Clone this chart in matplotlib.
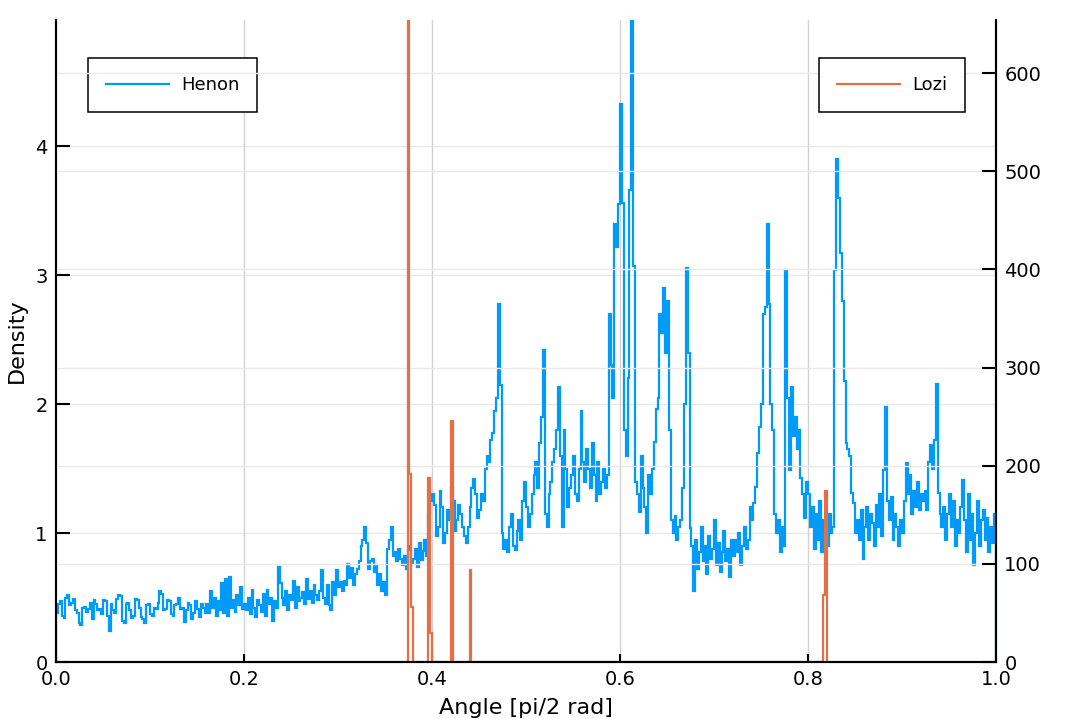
import matplotlib
matplotlib.use("Agg")
import matplotlib.pyplot as plt
import numpy as np

# Henon histogram: 500 bins over [0, 1], density (one row = 0.04)
henonDensity = [
    0.38, 0.45, 0.47, 0.36, 0.34, 0.50, 0.52, 0.44, 0.46, 0.49, 0.40, 0.38, 0.30, 0.29, 0.42, 0.43, 0.39, 0.41, 0.46, 0.33,
    0.48, 0.45, 0.40, 0.41, 0.37, 0.48, 0.47, 0.36, 0.24, 0.45, 0.40, 0.38, 0.49, 0.52, 0.51, 0.32, 0.30, 0.45, 0.46, 0.40,
    0.34, 0.36, 0.49, 0.48, 0.42, 0.35, 0.33, 0.30, 0.44, 0.45, 0.37, 0.36, 0.42, 0.41, 0.46, 0.55, 0.53, 0.40, 0.41, 0.48,
    0.47, 0.37, 0.36, 0.44, 0.45, 0.50, 0.41, 0.42, 0.31, 0.40, 0.46, 0.44, 0.33, 0.38, 0.47, 0.41, 0.35, 0.45, 0.42, 0.38,
    0.45, 0.38, 0.55, 0.42, 0.50, 0.36, 0.47, 0.40, 0.61, 0.38, 0.64, 0.36, 0.66, 0.42, 0.48, 0.39, 0.52, 0.44, 0.58, 0.41,
    0.45, 0.40, 0.50, 0.37, 0.56, 0.42, 0.35, 0.48, 0.44, 0.39, 0.53, 0.36, 0.56, 0.45, 0.50, 0.32, 0.47, 0.42, 0.74, 0.61,
    0.50, 0.44, 0.55, 0.40, 0.52, 0.48, 0.63, 0.42, 0.58, 0.47, 0.50, 0.54, 0.45, 0.64, 0.49, 0.55, 0.46, 0.60, 0.52, 0.48,
    0.55, 0.71, 0.50, 0.45, 0.60, 0.44, 0.40, 0.62, 0.52, 0.71, 0.58, 0.62, 0.55, 0.63, 0.60, 0.76, 0.65, 0.73, 0.60, 0.68,
    0.72, 0.78, 0.90, 0.95, 1.05, 0.92, 0.72, 0.78, 0.80, 0.70, 0.75, 0.60, 0.68, 0.55, 0.62, 0.52, 0.88, 0.95, 1.05, 0.82,
    0.85, 0.78, 0.88, 0.80, 0.75, 0.82, 0.72, 0.87, 0.90, 0.76, 0.80, 0.88, 0.74, 0.92, 0.79, 0.86, 0.95, 0.82, 1.15, 1.25,
    1.30, 1.22, 0.98, 1.05, 1.33, 1.20, 0.92, 1.00, 1.18, 1.10, 1.36, 1.25, 1.02, 1.10, 1.22, 1.15, 1.05, 0.98, 0.92, 1.05,
    1.20, 1.35, 1.42, 1.30, 1.12, 1.18, 1.30, 1.25, 1.50, 1.60, 1.55, 1.72, 1.78, 1.95, 2.05, 2.78, 2.15, 1.00, 0.88, 0.95,
    0.85, 1.05, 1.15, 0.90, 0.87, 1.02, 1.10, 0.95, 1.25, 1.40, 1.20, 1.05, 1.15, 1.30, 1.45, 1.55, 1.35, 1.70, 1.90, 2.42,
    1.15, 1.05, 1.30, 1.40, 1.55, 1.65, 1.80, 2.13, 1.60, 1.05, 1.80, 1.50, 1.20, 1.35, 1.45, 1.60, 1.30, 1.25, 1.50, 1.95,
    1.55, 1.40, 1.65, 1.50, 1.35, 1.70, 1.45, 1.25, 1.55, 1.30, 1.40, 1.50, 1.35, 1.45, 2.70, 2.30, 2.05, 3.40, 3.22, 3.55,
    4.33, 3.56, 1.80, 1.60, 2.20, 3.66, 4.98, 3.07, 1.40, 1.30, 1.16, 1.60, 1.35, 1.20, 1.00, 1.45, 1.30, 1.50, 1.71, 1.96,
    2.05, 2.70, 2.55, 2.90, 2.40, 2.80, 1.80, 1.10, 1.00, 1.13, 0.95, 1.05, 1.10, 1.35, 2.00, 3.06, 2.40, 1.04, 0.90, 0.55,
    0.95, 0.72, 0.85, 1.05, 0.78, 0.90, 0.68, 0.98, 0.80, 0.88, 1.10, 0.75, 0.92, 0.70, 0.85, 1.02, 0.78, 0.88, 0.66, 0.95,
    0.82, 0.95, 0.85, 1.00, 0.75, 0.90, 1.05, 0.88, 0.95, 1.20, 1.10, 1.23, 1.36, 1.62, 1.82, 2.00, 2.70, 2.75, 3.40, 2.78,
    2.00, 1.80, 1.15, 1.00, 1.10, 0.85, 1.05, 0.90, 3.04, 2.05, 1.49, 2.13, 1.75, 1.90, 1.65, 1.80, 1.43, 1.30, 1.12, 1.40,
    1.30, 1.05, 1.20, 0.88, 1.15, 0.95, 1.25, 0.85, 1.10, 1.00, 0.90, 1.15, 1.00, 1.05, 3.04, 3.90, 3.60, 3.17, 2.80, 2.18,
    1.70, 1.65, 1.60, 1.31, 1.23, 1.00, 1.10, 0.95, 1.18, 0.80, 1.05, 1.20, 0.95, 1.15, 1.08, 0.90, 1.22, 1.05, 1.30, 0.98,
    1.49, 1.98, 1.25, 1.10, 1.28, 0.95, 1.15, 1.05, 0.90, 1.10, 1.00, 1.25, 1.54, 1.30, 1.45, 1.15, 1.33, 1.20, 1.40, 1.18,
    1.30, 1.25, 1.33, 1.18, 1.55, 1.68, 1.50, 1.72, 2.16, 1.31, 1.15, 1.05, 1.20, 0.95, 1.15, 1.30, 1.05, 1.25, 0.90, 1.10,
    1.00, 1.20, 1.41, 1.10, 0.85, 1.30, 0.95, 1.15, 0.75, 1.00, 1.25, 0.90, 1.10, 1.18, 0.95, 1.12, 0.85, 1.05, 0.92, 1.15,
]

# Lozi histogram: counts, bins of 0.002 from 0.372 to 0.820 (non-zero bins only)
loziStart = 0.372
loziEnd = 0.820
loziWidth = 0.002
loziBinLeft = [0.374, 0.376, 0.378, 0.396, 0.398, 0.420, 0.440, 0.816, 0.818]
loziCounts = [654, 192, 56, 187, 30, 246, 94, 68, 174]

xTicks = [0.0, 0.2, 0.4, 0.6, 0.8, 1.0]
leftTicks = [0, 1, 2, 3, 4]
rightTicks = [0, 100, 200, 300, 400, 500, 600]

blue = "#009AFA"
orange = "#E26F46"

plt.rcParams['font.family'] = ['DejaVu Sans']

fig = plt.figure(figsize=(10.79, 7.19), dpi=100)
ax = fig.add_axes([56/1079, 57/719, 940/1079, 642/719])
ax2 = ax.twinx()

# henon
henonEdges = np.linspace(0, 1, len(henonDensity) + 1)
ax.stairs(henonDensity, henonEdges, color=blue, lw=1.6, baseline=0, label="Henon")

# lozi
nLozi = int(round((loziEnd - loziStart) / loziWidth))
loziEdges = loziStart + loziWidth * np.arange(nLozi + 1)
loziFull = np.zeros(nLozi)
for left, c in zip(loziBinLeft, loziCounts):
    loziFull[int(round((left - loziStart) / loziWidth))] = c
ax2.stairs(loziFull, loziEdges, color=orange, lw=1.6, baseline=0, label="Lozi")

ax.set_xlim(0, 1)
ax.set_ylim(0, 4.98)
ax2.set_ylim(0, 654)

ax.set_xticks(xTicks)
ax.set_xticklabels(["%.1f" % t for t in xTicks])
ax.set_yticks(leftTicks)
ax2.set_yticks(rightTicks)

gridCol = "#e9e9e9"
for y in leftTicks[1:]:
    ax.axhline(y, color=gridCol, lw=1, zorder=0)
for y in rightTicks[1:]:
    ax2.axhline(y, color=gridCol, lw=1, zorder=0)
for x in xTicks[1:-1]:
    ax.axvline(x, color="#d2d2d2", lw=1, zorder=0)

for a in (ax, ax2):
    a.spines['top'].set_visible(False)
    for s in a.spines.values():
        s.set_linewidth(1.5)
ax.tick_params(axis='x', direction='in', length=6, width=1.5, labelsize=14, pad=6)
ax.tick_params(axis='y', direction='in', length=10, width=1.5, labelsize=14, pad=6)
ax2.tick_params(axis='y', direction='in', length=10, width=1.5, labelsize=14, pad=6)

ax.set_xlabel("Angle [pi/2 rad]", fontsize=16, labelpad=6)
ax.set_ylabel("Density", fontsize=16, labelpad=6)

legOpts = dict(fontsize=13, fancybox=False, framealpha=1, edgecolor='black',
               handlelength=3.5, borderpad=1.0, handletextpad=0.65, borderaxespad=0)
leg1 = ax.legend(loc='upper left', bbox_to_anchor=(0.034, 0.941), **legOpts)
leg1.get_frame().set_linewidth(1.1)
leg2 = ax2.legend(loc='upper right', bbox_to_anchor=(0.967, 0.941), **legOpts)
leg2.get_frame().set_linewidth(1.1)

fig.savefig("out.png", dpi=100)
